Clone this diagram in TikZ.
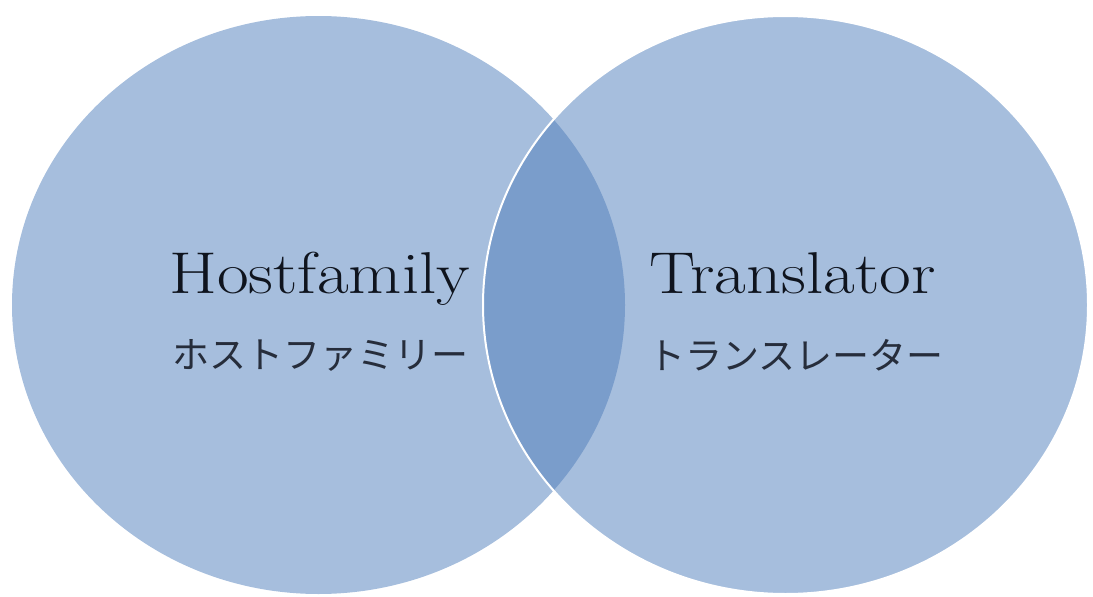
\documentclass[tikz,border=0pt]{standalone}
\usepackage{fontspec}
\newfontfamily\jpfont{Noto Sans CJK JP}
\definecolor{circ}{RGB}{166,190,221}
\definecolor{lensc}{RGB}{122,157,203}
\definecolor{txt}{RGB}{15,20,30}
\begin{document}
\begin{tikzpicture}[x=1pt,y=-1pt,
  entitle/.style={inner sep=0pt, font=\fontsize{59}{60}\selectfont, text=txt, anchor=base west, xscale=1.17, transform shape},
  jptitle/.style={inner sep=0pt, font=\jpfont\fontsize{37}{38}\selectfont, text=txt!85!circ, anchor=west}]
\useasboundingbox (0,0) rectangle (1093,597);
\fill[circ] (318.5,305) ellipse [x radius=306.5, y radius=289];
\fill[circ] (785.5,305) ellipse [x radius=302.5, y radius=289];
\begin{scope}
  \clip (318.5,305) ellipse [x radius=306.5, y radius=289];
  \fill[lensc] (785.5,305) ellipse [x radius=302.5, y radius=289];
\end{scope}
\draw[white, line width=2pt] (785.5,305) ellipse [x radius=302.5, y radius=289];
\node[entitle] (hf) at (169,293) {Hostfamily};
\node[entitle] (tr) at (649,293) {Translator};
\node[jptitle] (hfj) at (172,355) {ホストファミリー};
\node[jptitle] (trj) at (648,355) {トランスレーター};
\end{tikzpicture}
\end{document}
